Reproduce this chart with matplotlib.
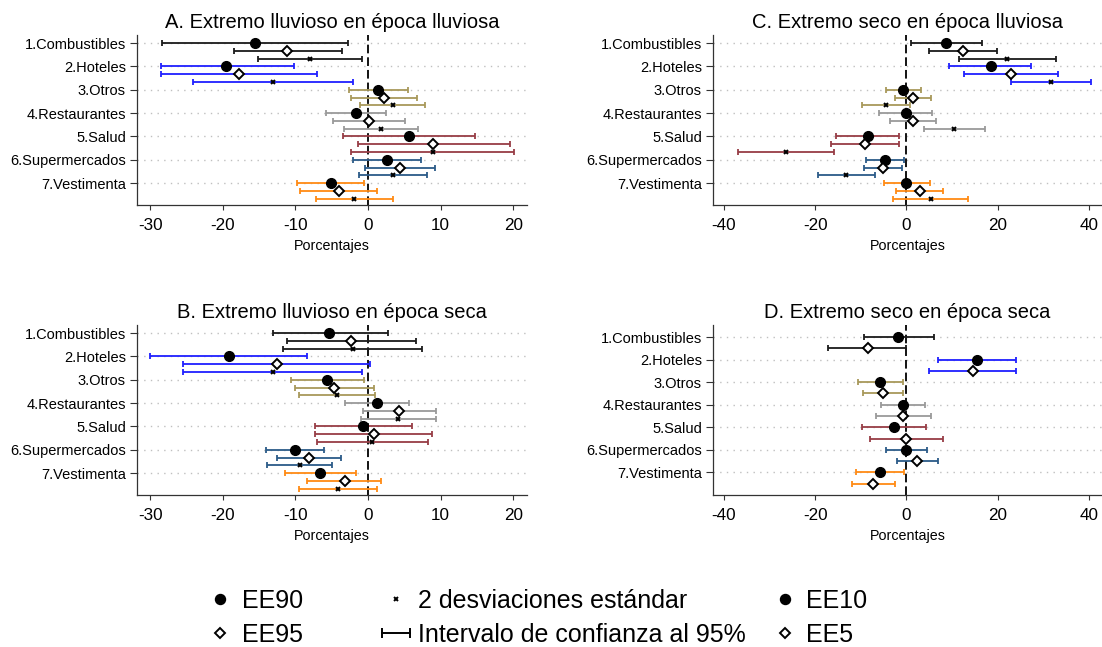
import numpy as np
import matplotlib
matplotlib.use('Agg')
import matplotlib.pyplot as plt
from matplotlib.lines import Line2D
from matplotlib.legend_handler import HandlerLine2D

plt.rcParams['font.family'] = ['Liberation Sans', 'DejaVu Sans']
plt.rcParams['axes.unicode_minus'] = False

CATEGORIES = ['1.Combustibles', '2.Hoteles', '3.Otros', '4.Restaurantes',
              '5.Salud', '6.Supermercados', '7.Vestimenta']
COLORS = ['#1a1a1a', '#1f1fff', '#a8995a', '#9a9a9a', '#973d45', '#2b5b88', '#ff8a14']

# A. Extremo lluvioso en epoca lluviosa
A_EE90 = [-15.6, -19.5, 1.4, -1.7, 5.7, 2.6, -5.1]
A_EE90_LO = [-28.3, -28.5, -2.6, -5.8, -3.4, -2.0, -9.8]
A_EE90_HI = [-2.7, -10.2, 5.5, 2.5, 14.7, 7.3, -0.5]
A_EE95 = [-11.2, -17.7, 2.2, 0.1, 9.0, 4.4, -4.0]
A_EE95_LO = [-18.5, -28.5, -2.3, -4.8, -1.4, -0.4, -9.3]
A_EE95_HI = [-3.6, -7.0, 6.7, 5.1, 19.5, 9.2, 1.3]
A_SD2 = [-8.0, -13.1, 3.4, 1.8, 8.9, 3.4, -1.9]
A_SD2_LO = [-15.1, -24.1, -1.1, -3.3, -2.4, -1.3, -7.2]
A_SD2_HI = [-0.8, -2.0, 7.9, 6.9, 20.1, 8.1, 3.4]

# B. Extremo lluvioso en epoca seca
B_EE90 = [-5.3, -19.2, -5.6, 1.2, -0.7, -10.0, -6.6]
B_EE90_LO = [-13.1, -30.0, -10.6, -3.2, -7.3, -14.0, -11.4]
B_EE90_HI = [2.7, -8.4, -0.5, 5.6, 6.0, -6.0, -1.7]
B_EE95 = [-2.4, -12.5, -4.7, 4.3, 0.8, -8.1, -3.2]
B_EE95_LO = [-11.2, -25.4, -10.1, -0.7, -7.3, -12.5, -8.4]
B_EE95_HI = [6.6, 0.3, 0.8, 9.4, 8.8, -3.7, 1.8]
B_SD2 = [-2.1, -13.1, -4.2, 4.2, 0.6, -9.4, -4.1]
B_SD2_LO = [-11.7, -25.4, -9.5, -0.9, -7.0, -13.9, -9.5]
B_SD2_HI = [7.4, -0.8, 1.0, 9.4, 8.2, -5.0, 1.3]

# C. Extremo seco en epoca lluviosa
C_EE90 = [8.7, 18.5, -0.8, -0.2, -8.4, -4.7, 0.0]
C_EE90_LO = [1.0, 9.4, -4.4, -6.0, -15.4, -8.9, -5.0]
C_EE90_HI = [16.5, 27.3, 3.1, 5.7, -1.6, -0.6, 5.2]
C_EE95 = [12.4, 22.8, 1.5, 1.4, -9.1, -5.1, 2.9]
C_EE95_LO = [5.0, 12.7, -2.6, -3.6, -16.6, -9.2, -2.4]
C_EE95_HI = [19.8, 33.1, 5.4, 6.4, -1.6, -1.0, 8.1]
C_SD2 = [22.0, 31.7, -4.5, 10.4, -26.4, -13.2, 5.3]
C_SD2_LO = [11.6, 22.8, -9.7, 3.9, -36.9, -19.4, -3.0]
C_SD2_HI = [32.7, 40.5, 0.7, 17.1, -15.8, -6.9, 13.5]

# D. Extremo seco en epoca seca
D_EE10 = [-1.8, 15.5, -5.8, -0.7, -2.7, 0.0, -5.9]
D_EE10_LO = [-9.4, 6.9, -10.7, -5.5, -9.8, -4.5, -11.1]
D_EE10_HI = [6.0, 24.1, -0.8, 4.1, 4.3, 4.6, -0.6]
D_EE5 = [-8.5, 14.5, -5.2, -0.7, -0.1, 2.4, -7.3]
D_EE5_LO = [-17.1, 4.9, -9.6, -6.7, -8.1, -2.1, -12.0]
D_EE5_HI = [0.0, 24.1, -0.8, 5.3, 7.9, 6.8, -2.5]

DOT = dict(marker='o', ms=7.0, mfc='black', mec='black', mew=1.0)
DIAMOND = dict(marker='D', ms=4.9, mfc='white', mec='black', mew=1.4)
CROSS = dict(marker='x', ms=3.3, mec='black', mew=1.4)
AXCOL = '#333333'

W, H = 1102, 647
fig = plt.figure(figsize=(W / 100, H / 100), dpi=100)


def px_axes(left, top, right, bottom):
    return fig.add_axes([left / W, 1 - bottom / H, (right - left) / W, (bottom - top) / H])


def draw_panel(ax, title, series, xlim, xticks, ylim):
    n_sub = len(series)
    rows = np.arange(len(CATEGORIES)) * n_sub
    ax.axvline(0, color='black', lw=1.3, linestyle=(0, (4.8, 2.2)), zorder=1)
    for k, (vals, lo, hi, style) in enumerate(series):
        vals, lo, hi = np.asarray(vals), np.asarray(lo), np.asarray(hi)
        y = rows + k
        for i in range(len(vals)):
            ax.errorbar(vals[i], y[i], xerr=[[vals[i] - lo[i]], [hi[i] - vals[i]]],
                        fmt='none', ecolor=COLORS[i], elinewidth=1.3,
                        capsize=2.3, capthick=1.3, zorder=2)
        ax.plot(vals, y, linestyle='none', zorder=3, **style)

    ax.set_xlim(*xlim)
    ax.set_ylim(*ylim)
    ax.set_xticks(xticks)
    ax.set_yticks(rows, labels=CATEGORIES)
    ax.yaxis.grid(True, color='#c0c0c0', lw=1.0, linestyle=(0, (1, 3.8)))
    ax.set_axisbelow(True)
    for side in ('top', 'right'):
        ax.spines[side].set_visible(False)
    for side in ('left', 'bottom'):
        ax.spines[side].set_color(AXCOL)
        ax.spines[side].set_linewidth(0.9)
    ax.tick_params(axis='y', length=5, width=0.8, color=AXCOL, pad=3, labelsize=10.5)
    ax.tick_params(axis='x', length=3.6, width=0.8, color=AXCOL, pad=6, labelsize=12.3)
    ax.set_xlabel('Porcentajes', fontsize=10.3, labelpad=4)
    ax.set_title(title, fontsize=14.5, pad=5.3)


ax_a = px_axes(137, 35, 527, 205)
draw_panel(ax_a, 'A. Extremo lluvioso en época lluviosa',
           [(A_EE90, A_EE90_LO, A_EE90_HI, DOT),
            (A_EE95, A_EE95_LO, A_EE95_HI, DIAMOND),
            (A_SD2, A_SD2_LO, A_SD2_HI, CROSS)],
           (-31.8, 21.9), [-30, -20, -10, 0, 10, 20], (20.8, -1.03))

ax_b = px_axes(137, 325, 527, 495)
draw_panel(ax_b, 'B. Extremo lluvioso en época seca',
           [(B_EE90, B_EE90_LO, B_EE90_HI, DOT),
            (B_EE95, B_EE95_LO, B_EE95_HI, DIAMOND),
            (B_SD2, B_SD2_LO, B_SD2_HI, CROSS)],
           (-31.8, 21.9), [-30, -20, -10, 0, 10, 20], (20.8, -1.03))

ax_c = px_axes(713, 35, 1102, 205)
draw_panel(ax_c, 'C. Extremo seco en época lluviosa',
           [(C_EE90, C_EE90_LO, C_EE90_HI, DOT),
            (C_EE95, C_EE95_LO, C_EE95_HI, DIAMOND),
            (C_SD2, C_SD2_LO, C_SD2_HI, CROSS)],
           (-42.4, 42.85), [-40, -20, 0, 20, 40], (20.8, -1.03))

ax_d = px_axes(713, 325, 1102, 495)
draw_panel(ax_d, 'D. Extremo seco en época seca',
           [(D_EE10, D_EE10_LO, D_EE10_HI, DOT),
            (D_EE5, D_EE5_LO, D_EE5_HI, DIAMOND)],
           (-42.4, 42.85), [-40, -20, 0, 20, 40], (14.0, -1.07))

# shared legend, three columns
LEG_DOT = dict(DOT, ms=7.2)
LEG_DIAMOND = dict(DIAMOND, ms=5.0)
ci_handle = Line2D([], [], color='black', lw=1.4, marker='|', ms=7, mew=1.4)
legend_cols = [
    ([Line2D([], [], ls='none', **LEG_DOT), Line2D([], [], ls='none', **LEG_DIAMOND)],
     ['EE90', 'EE95'], 206),
    ([Line2D([], [], ls='none', **CROSS), ci_handle],
     ['2 desviaciones estándar', 'Intervalo de confianza al 95%'], 382),
    ([Line2D([], [], ls='none', **LEG_DOT), Line2D([], [], ls='none', **LEG_DIAMOND)],
     ['EE10', 'EE5'], 771),
]
for handles, labels, x0 in legend_cols:
    fig.legend(handles, labels, loc='upper left', bbox_to_anchor=(x0 / W, 1 - 589 / H),
               frameon=False, fontsize=18, borderpad=0, borderaxespad=0,
               handlelength=1.1, handletextpad=0.32, labelspacing=0.38,
               handler_map={ci_handle: HandlerLine2D(numpoints=2, marker_pad=0)})

fig.savefig('out.png', dpi=100)
